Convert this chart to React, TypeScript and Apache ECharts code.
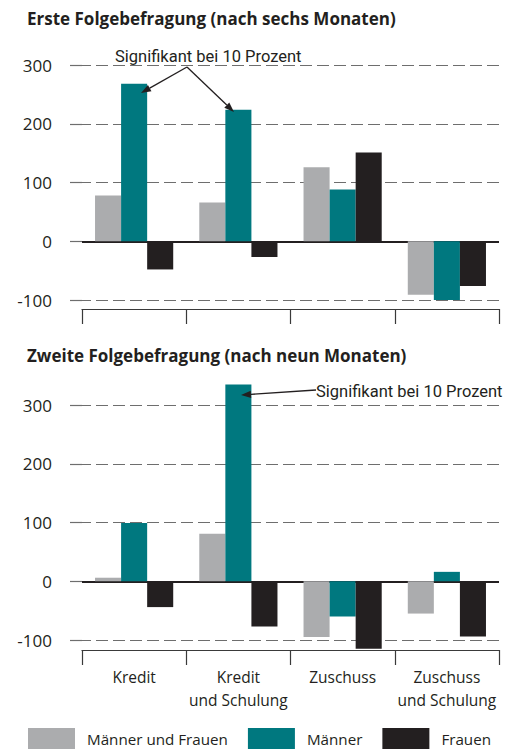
import React, { useEffect, useRef } from "react";
import * as echarts from "echarts";

const categories = ["Kredit", "Kredit\nund Schulung", "Zuschuss", "Zuschuss\nund Schulung"];
const seriesNames = ["Männer und Frauen", "Männer", "Frauen"];
const seriesColors = ["#abacae", "#00787f", "#231f20"];

const wave1Both = [78, 66, 126, -91];
const wave1Men = [268, 224, 88, -100];
const wave1Women = [-48, -27, 151, -76];

const wave2Both = [6, 81, -95, -55];
const wave2Men = [99, 335, -60, 16];
const wave2Women = [-44, -77, -115, -94];

const titles = ["Erste Folgebefragung (nach sechs Monaten)", "Zweite Folgebefragung (nach neun Monaten)"];
const noteText = "Signifikant bei 10 Prozent";
const yMin = -100;
const yMax = 300;
const yStep = 100;

const FONT = "'Open Sans', 'Noto Sans', sans-serif";
const NOTE_FONT = "'Liberation Sans Narrow', 'Roboto', sans-serif";

function arrow(x1: number, y1: number, x2: number, y2: number) {
  const dx = x2 - x1;
  const dy = y2 - y1;
  const len = Math.sqrt(dx * dx + dy * dy);
  const ux = dx / len;
  const uy = dy / len;
  const hl = 10;
  const hw = 3.6;
  const bx = x2 - ux * hl;
  const by = y2 - uy * hl;
  return [
    {
      type: "line",
      shape: { x1, y1, x2: bx, y2: by },
      style: { stroke: "#231f20", lineWidth: 1.3 },
      z: 100,
    },
    {
      type: "polygon",
      shape: {
        points: [
          [x2, y2],
          [bx - uy * hw, by + ux * hw],
          [bx + uy * hw, by - ux * hw],
        ],
      },
      style: { fill: "#231f20" },
      z: 100,
    },
  ];
}

function textEl(text: string, x: number, y: number, font: string, align = "left") {
  return {
    type: "text",
    z: 100,
    style: {
      text,
      x,
      y,
      font,
      fill: "#231f20",
      align,
      verticalAlign: "middle",
      textAlign: align,
      textVerticalAlign: "middle",
    },
  };
}

export default function App() {
  const ref = useRef<HTMLDivElement>(null);

  useEffect(() => {
    if (!ref.current) return;
    const chart = echarts.init(ref.current, undefined, { renderer: "svg" });

    const grids = [
      { left: 82, right: 13, top: 65, height: 235 },
      { left: 82, right: 13, top: 405, height: 235 },
    ];
    const offsets = [9, 10];

    const xAxes = grids.map((_, i) => ({
      type: "category",
      gridIndex: i,
      data: categories,
      position: "bottom",
      offset: offsets[i],
      axisLine: { onZero: false, lineStyle: { color: "#3a3a3a", width: 1.2 } },
      axisTick: { show: true, length: 15, lineStyle: { color: "#3a3a3a", width: 1.2 } },
      axisLabel: {
        show: i === 1,
        fontFamily: FONT,
        fontSize: 15.5,
        color: "#231f20",
        lineHeight: 23,
        margin: 15,
        interval: 0,
      },
      splitLine: { show: false },
    }));

    const yAxes = grids.map((_, i) => ({
      type: "value",
      gridIndex: i,
      min: yMin,
      max: yMax,
      interval: yStep,
      axisLine: { show: false },
      axisTick: {
        show: true,
        length: 15,
        lineStyle: { color: "#6e6e6e", width: 1.2, type: [12, 5] },
      },
      axisLabel: {
        fontFamily: FONT,
        fontSize: 17,
        color: "#231f20",
        margin: 30,
      },
      splitLine: {
        show: true,
        lineStyle: { color: "#6e6e6e", width: 1.2, type: [12, 5], dashOffset: 3 },
      },
    }));

    const data = [
      [wave1Both, wave1Men, wave1Women],
      [wave2Both, wave2Men, wave2Women],
    ];

    const series: any[] = [];
    data.forEach((group, gi) => {
      group.forEach((vals, si) => {
        series.push({
          type: "bar",
          name: seriesNames[si],
          xAxisIndex: gi,
          yAxisIndex: gi,
          data: vals,
          barGap: "0%",
          barCategoryGap: "25%",
          clip: false,
          itemStyle: { color: seriesColors[si] },
          z: 2,
          ...(si === 0
            ? {
                markLine: {
                  silent: true,
                  symbol: "none",
                  label: { show: false },
                  lineStyle: { color: "#231f20", width: 2, type: "solid" },
                  data: [{ yAxis: 0 }],
                  z: 1,
                },
              }
            : {}),
        });
      });
    });

    const graphic: any[] = [
      textEl(titles[0], 27, 18, `bold 17px ${FONT}`),
      textEl(titles[1], 27, 355, `bold 17px ${FONT}`),
      textEl(noteText, 115, 56, `16.5px ${NOTE_FONT}`),
      textEl(noteText, 316, 391, `16.5px ${NOTE_FONT}`),
      ...arrow(187, 67, 141, 93),
      ...arrow(187, 67, 234, 112),
      ...arrow(316, 390, 241, 395),
    ];

    chart.setOption({
      animation: false,
      backgroundColor: "#ffffff",
      grid: grids,
      xAxis: xAxes,
      yAxis: yAxes,
      series,
      legend: {
        data: seriesNames,
        left: 28,
        top: 728,
        width: 484,
        padding: 0,
        itemWidth: 47,
        itemHeight: 21,
        itemGap: 20,
        icon: "rect",
        selectedMode: false,
        textStyle: {
          fontFamily: FONT,
          fontSize: 15.2,
          color: "#231f20",
          padding: [0, 0, 0, 7],
        },
      },
      graphic,
    });

    return () => chart.dispose();
  }, []);

  return (
    <div
      ref={ref}
      style={{ position: "fixed", left: 0, top: 0, width: 512, height: 751, background: "#fff" }}
    />
  );
}
